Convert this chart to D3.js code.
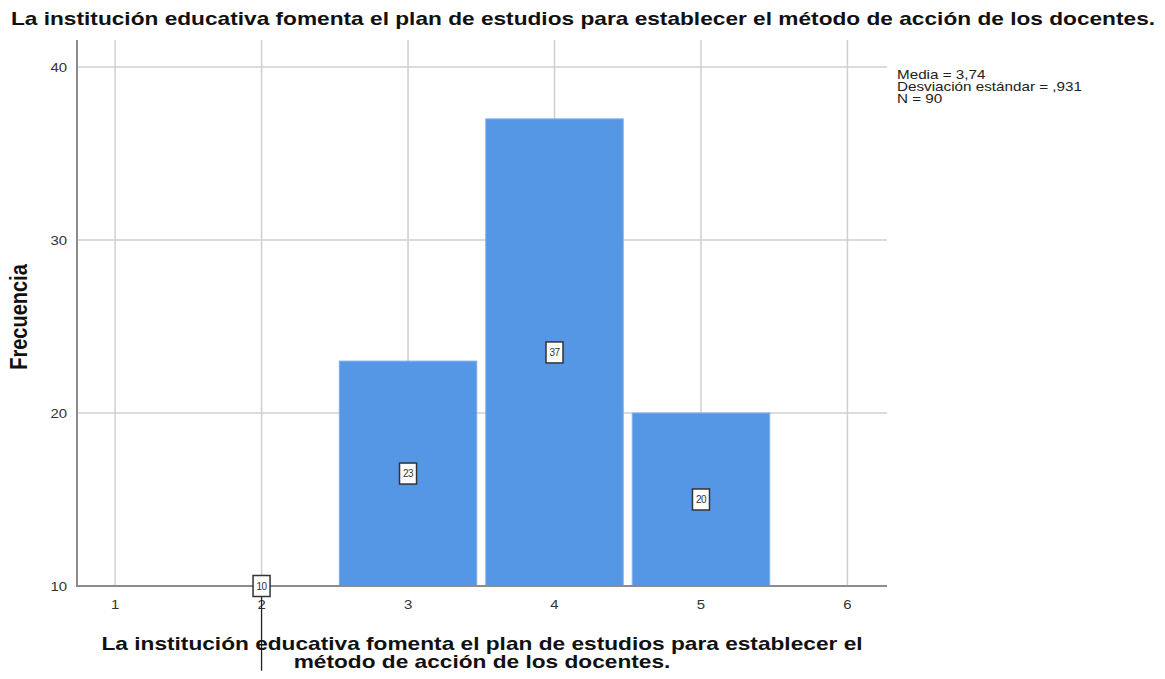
<!DOCTYPE html>
<html><head><meta charset="utf-8">
<script src="https://cdn.jsdelivr.net/npm/d3@7"></script>
<style>body{margin:0;background:#fff}svg{display:block}text{font-family:"Liberation Sans",Arial,sans-serif}</style>
</head><body>
<svg id="c" width="1165" height="679"></svg>
<script>
const categories = [2, 3, 4, 5];
const frequencies = [10, 23, 37, 20];
const xTicks = [1, 2, 3, 4, 5, 6];
const yTicks = [10, 20, 30, 40];
const statsLines = ["Media = 3,74", "Desviación estándar = ,931", "N = 90"];
const title = "La institución educativa fomenta el plan de estudios para establecer el método de acción de los docentes.";
const xTitleLines = ["La institución educativa fomenta el plan de estudios para establecer el", "método de acción de los docentes."];
const yTitle = "Frecuencia";

const SX = 1.26; // horizontal stretch of the reference rendering
const svg = d3.select("#c");
const L = 77, R = 887, T = 40, B = 586;
const x = d3.scaleLinear().domain([0.74, 6.27]).range([L, R]);
const y = d3.scaleLinear().domain([10, 41.56]).range([B, T]);

function stext(parent, px, py, str, opts) {
  const g = parent.append("g").attr("transform", `translate(${px},${py}) scale(${opts.sx || SX},1)`);
  g.append("text").attr("text-anchor", opts.anchor || "start").attr("font-size", opts.size)
    .attr("font-weight", opts.weight || "normal").attr("fill", opts.fill || "#111").text(str);
  return g;
}

// gridlines
svg.append("g").selectAll("line").data(xTicks).join("line")
  .attr("x1", d => x(d)).attr("x2", d => x(d)).attr("y1", T).attr("y2", B)
  .attr("stroke", "#cfcfcf").attr("stroke-width", 1.5);
svg.append("g").selectAll("line").data(yTicks).join("line")
  .attr("x1", L).attr("x2", R).attr("y1", d => y(d)).attr("y2", d => y(d))
  .attr("stroke", "#cfcfcf").attr("stroke-width", 1.5);

// bars
const binW = x(1) - x(0);
const pad = 4.5;
const data = categories.map((c, i) => ({c, v: frequencies[i]}));
svg.append("g").selectAll("rect").data(data).join("rect")
  .attr("x", d => x(d.c - 0.5) + pad).attr("width", binW - 2 * pad)
  .attr("y", d => y(d.v)).attr("height", d => y(10) - y(d.v))
  .attr("fill", "#5596e5").attr("stroke", "#7fb0ee").attr("stroke-width", 1);

// axes lines
svg.append("line").attr("x1", L).attr("x2", L).attr("y1", T).attr("y2", B + 1)
  .attr("stroke", "#8c8c8c").attr("stroke-width", 2);
svg.append("line").attr("x1", L).attr("x2", R).attr("y1", B).attr("y2", B)
  .attr("stroke", "#8c8c8c").attr("stroke-width", 2);

// tick labels
const yt = svg.append("g");
yTicks.forEach(d => stext(yt, L - 10, y(d) + 5, d, {size: 13, anchor: "end", fill: "#333", sx: 1.15}));
const xt = svg.append("g");
xTicks.forEach(d => stext(xt, x(d), B + 23, d, {size: 13, anchor: "middle", fill: "#333", sx: 1.15}));

// odd vertical line under bar 2
svg.append("line").attr("x1", x(2)).attr("x2", x(2)).attr("y1", y(10)).attr("y2", y(5.1))
  .attr("stroke", "#222").attr("stroke-width", 1.3);

// value labels
const lab = svg.append("g").selectAll("g").data(data).join("g")
  .attr("transform", d => `translate(${x(d.c)},${(y(d.v) + y(10)) / 2})`);
lab.append("rect").attr("x", -8.5).attr("y", -10.5).attr("width", 17).attr("height", 21)
  .attr("fill", "#fff").attr("stroke", "#333").attr("stroke-width", 1.5);
lab.append("text").attr("text-anchor", "middle").attr("y", 3.5).attr("font-size", 10)
  .attr("fill", "#333").attr("letter-spacing", -0.6).text(d => d.v);

// titles
stext(svg, 583, 25, title, {size: 18, weight: "bold", anchor: "middle"});
svg.append("text").attr("transform", "translate(27,317) scale(1.2,1) rotate(-90)").attr("text-anchor", "middle")
  .attr("font-size", 20).attr("font-weight", "bold").attr("fill", "#111").text(yTitle);
xTitleLines.forEach((d, i) => stext(svg, 482, 650 + i * 18, d, {size: 18, weight: "bold", anchor: "middle"}));

// stats
statsLines.forEach((d, i) => stext(svg, 897, 79 + i * 12, d, {size: 12, fill: "#222", sx: 1.27}));
</script>
</body></html>
